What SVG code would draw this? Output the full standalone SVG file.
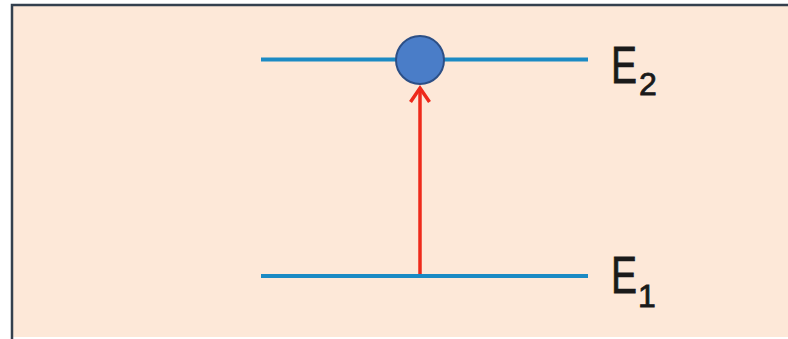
<svg xmlns="http://www.w3.org/2000/svg" width="788" height="339" viewBox="0 0 788 339">
<style>
.level{stroke:#1b8ac4;stroke-width:4;fill:none}
.arrow{stroke:#ee2a1b;stroke-width:3.5;fill:none}
.lbl{font-family:"Liberation Sans",Arial,sans-serif;fill:#1a1a1a;stroke:#1a1a1a;stroke-width:0.8}
</style>
<rect width="788" height="339" fill="#ffffff"/>
<rect x="12" y="5" width="800" height="332" fill="#fde8d8"/>
<path d="M12 339 V5 H788" stroke="#34404e" stroke-width="2.5" fill="none"/>
<g id="connectors">
<line class="arrow" x1="420" y1="276" x2="420" y2="89"/>
<polyline class="arrow" points="410.5,102 420,88 429.5,102" stroke-linejoin="miter"/>
</g>
<g id="level-E2">
<line class="level" x1="261" y1="59.5" x2="588" y2="59.5"/>
<g transform="translate(611,83) scale(0.75,1)"><text class="lbl" x="0" y="0" font-size="52">E</text></g>
<text class="lbl" x="639" y="95" font-size="32">2</text>
</g>
<g id="level-E1">
<line class="level" x1="261" y1="276" x2="588" y2="276"/>
<g transform="translate(611,293) scale(0.75,1)"><text class="lbl" x="0" y="0" font-size="52">E</text></g>
<text class="lbl" x="638" y="307" font-size="32">1</text>
</g>
<g id="electron">
<circle cx="420" cy="60" r="24" fill="#4a7dc8" stroke="#2c4f86" stroke-width="2"/>
</g>
</svg>
